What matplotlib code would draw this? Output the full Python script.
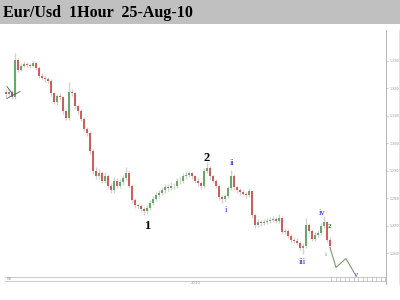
import matplotlib
matplotlib.use("Agg")
import matplotlib.pyplot as plt
from matplotlib.lines import Line2D
from matplotlib.patches import Rectangle

# ---- data (hourly candles, EUR/USD) ----
closes = [1.3178, 1.3188, 1.3167, 1.3304, 1.3268, 1.3282, 1.3289, 1.3286, 1.3282, 1.3293,
          1.3275, 1.3246, 1.3239, 1.3232, 1.3228, 1.3181, 1.3149, 1.3170, 1.3167, 1.3116,
          1.3091, 1.3188, 1.3181, 1.3134, 1.3116, 1.3088, 1.3052, 1.3037, 1.2972, 1.2900,
          1.2879, 1.2893, 1.2864, 1.2882, 1.2846, 1.2828, 1.2864, 1.2846, 1.2857, 1.2875,
          1.2893, 1.2846, 1.2792, 1.2774, 1.2771, 1.2760, 1.2753, 1.2764, 1.2782, 1.2796,
          1.2810, 1.2818, 1.2828, 1.2839, 1.2836, 1.2846, 1.2843, 1.2861, 1.2864, 1.2879,
          1.2886, 1.2890, 1.2879, 1.2864, 1.2854, 1.2843, 1.2900, 1.2911, 1.2879, 1.2864,
          1.2846, 1.2803, 1.2796, 1.2807, 1.2836, 1.2882, 1.2839, 1.2828, 1.2821, 1.2814,
          1.2810, 1.2825, 1.2738, 1.2702, 1.2713, 1.2710, 1.2713, 1.2717, 1.2720, 1.2724,
          1.2717, 1.2728, 1.2677, 1.2681, 1.2663, 1.2648, 1.2645, 1.2638, 1.2620, 1.2627,
          1.2702, 1.2681, 1.2652, 1.2666, 1.2674, 1.2699, 1.2713, 1.2648, 1.2627]
highs = [1.3196, 1.3199, 1.3195, 1.3329, 1.3310, 1.3292, 1.3298, 1.3296, 1.3293, 1.3302,
         1.3300, 1.3280, 1.3256, 1.3248, 1.3240, 1.3234, 1.3188, 1.3180, 1.3182, 1.3172,
         1.3122, 1.3224, 1.3198, 1.3186, 1.3142, 1.3124, 1.3094, 1.3060, 1.3044, 1.2980,
         1.2912, 1.2906, 1.2900, 1.2894, 1.2888, 1.2854, 1.2876, 1.2872, 1.2868, 1.2886,
         1.2914, 1.2900, 1.2852, 1.2800, 1.2784, 1.2780, 1.2768, 1.2774, 1.2792, 1.2806,
         1.2822, 1.2830, 1.2840, 1.2852, 1.2850, 1.2860, 1.2856, 1.2872, 1.2876, 1.2890,
         1.2898, 1.2900, 1.2896, 1.2886, 1.2872, 1.2860, 1.2910, 1.2932, 1.2918, 1.2886,
         1.2870, 1.2852, 1.2812, 1.2816, 1.2846, 1.2904, 1.2888, 1.2846, 1.2836, 1.2830,
         1.2824, 1.2836, 1.2830, 1.2744, 1.2724, 1.2722, 1.2724, 1.2728, 1.2730, 1.2736,
         1.2732, 1.2742, 1.2734, 1.2692, 1.2688, 1.2670, 1.2658, 1.2654, 1.2644, 1.2636,
         1.2728, 1.2708, 1.2688, 1.2676, 1.2684, 1.2710, 1.2736, 1.2718, 1.2660]
lows = [1.3165, 1.3170, 1.3160, 1.3160, 1.3258, 1.3262, 1.3276, 1.3279, 1.3274, 1.3276,
        1.3268, 1.3238, 1.3230, 1.3222, 1.3218, 1.3172, 1.3142, 1.3140, 1.3158, 1.3108,
        1.3084, 1.3086, 1.3170, 1.3126, 1.3106, 1.3080, 1.3044, 1.3026, 1.2962, 1.2888,
        1.2868, 1.2870, 1.2854, 1.2856, 1.2836, 1.2818, 1.2820, 1.2838, 1.2836, 1.2848,
        1.2866, 1.2838, 1.2782, 1.2764, 1.2760, 1.2750, 1.2740, 1.2744, 1.2756, 1.2774,
        1.2788, 1.2802, 1.2810, 1.2820, 1.2826, 1.2828, 1.2834, 1.2836, 1.2852, 1.2856,
        1.2870, 1.2878, 1.2870, 1.2856, 1.2846, 1.2834, 1.2838, 1.2892, 1.2870, 1.2854,
        1.2836, 1.2794, 1.2784, 1.2788, 1.2800, 1.2830, 1.2830, 1.2820, 1.2812, 1.2806,
        1.2802, 1.2804, 1.2728, 1.2692, 1.2694, 1.2700, 1.2702, 1.2706, 1.2708, 1.2712,
        1.2708, 1.2710, 1.2668, 1.2668, 1.2654, 1.2638, 1.2636, 1.2628, 1.2610, 1.2598,
        1.2620, 1.2672, 1.2644, 1.2644, 1.2658, 1.2666, 1.2690, 1.2640, 1.2616]
first_open = 1.3185

# projected wave path (bar index, price)
proj_x = [108, 110, 113.3, 116]
proj_y = [1.2620, 1.2548, 1.2580, 1.2530]

# wave labels: (text, bar index, price, color, size, weight)
wave_labels = [
    ("1", 47, 1.2700, "black", 9, "bold"),
    ("2", 67, 1.2947, "black", 9, "bold"),
    ("i", 73.3, 1.2756, "#2020d0", 6, "normal"),
    ("ii", 75.3, 1.2929, "#2020d0", 6, "normal"),
    ("iii", 98.7, 1.2569, "#2020d0", 6, "normal"),
    ("iv", 105.3, 1.2746, "#2020d0", 6, "normal"),
    ("v", 116.7, 1.2519, "#2020d0", 6, "normal"),
    ("2", 107.7, 1.2695, "#208020", 5, "bold"),
    ("i", 106.7, 1.2594, "#60a060", 5, "normal"),
]

price_ticks = [1.2600, 1.2700, 1.2800, 1.2900, 1.3000, 1.3100, 1.3200, 1.3300]

# ---- figure ----
fig = plt.figure(figsize=(4, 3), dpi=100)
fig.patch.set_facecolor("white")

# title bar
fig.add_artist(Rectangle((0, 1 - 24 / 300), 1, 24 / 300, transform=fig.transFigure,
                         facecolor="#c0c0c0", edgecolor="none"))
fig.text(3 / 400, 1 - 13 / 300, "Eur/Usd  1Hour  25-Aug-10", family="Liberation Serif",
         fontweight="bold", fontsize=11.5, va="center", ha="left", color="black")

ax_l, ax_r = 5 / 400, 386 / 400
ax_b, ax_t = 23 / 300, 1 - 30 / 300
ax = fig.add_axes([ax_l, ax_b, ax_r - ax_l, ax_t - ax_b])
ax.set_facecolor("white")

opens = [first_open] + closes[:-1]
for i, (o, h, l, c) in enumerate(zip(opens, highs, lows, closes)):
    ax.vlines(i, l, h, color="#d2d2d2", linewidth=1.0, zorder=1)
    col = "#6aa86a" if c >= o else "#c86060"
    ax.bar(i, abs(c - o) if abs(c - o) > 0.0002 else 0.0002, bottom=min(o, c),
           width=0.4, color=col, edgecolor="none", zorder=2)

# small crossing marks at start
ax.plot([0.33, 2.3], [1.3206, 1.3178], color="#555555", linewidth=0.6, zorder=3)
ax.plot([0.33, 4.7], [1.3163, 1.3188], color="#555555", linewidth=0.6, zorder=3)

ax.plot(proj_x, proj_y, color="#7a9a6a", linewidth=0.8, zorder=3)

for txt, x, y, col, size, wt in wave_labels:
    ax.text(x, y, txt, color=col, fontsize=size, fontweight=wt, family="Liberation Serif",
            ha="center", va="center", zorder=4)

ax.set_xlim(-0.333, 126.67)
ax.set_ylim(1.2513, 1.3412)
ax.set_xticks([])
ax.yaxis.tick_right()
ax.set_yticks(price_ticks)
ax.set_yticklabels([f"{p:.4f}" for p in price_ticks], fontsize=2.3, color="#999999")
ax.tick_params(axis="y", length=1.5, width=0.4, color="#aaaaaa", pad=0.8)
for s in ["top", "left", "bottom"]:
    ax.spines[s].set_visible(False)
ax.spines["right"].set_color("#aaaaaa")
ax.spines["right"].set_linewidth(0.6)

# bottom time strip
fig.add_artist(Line2D([5 / 400, 386 / 400], [23 / 300, 23 / 300], transform=fig.transFigure,
                      color="#cccccc", linewidth=0.8))
fig.add_artist(Line2D([5 / 400, 386 / 400], [19 / 300, 19 / 300], transform=fig.transFigure,
                      color="#cccccc", linewidth=0.8))
for k in range(13):
    xp = (331 + 4.5 * k) / 400
    fig.add_artist(Line2D([xp, xp], [19 / 300, 23 / 300], transform=fig.transFigure,
                          color="#bbbbbb", linewidth=0.5))
fig.add_artist(Line2D([386 / 400, 386 / 400], [16 / 300, 23 / 300], transform=fig.transFigure,
                      color="#aaaaaa", linewidth=0.6))
fig.add_artist(Line2D([399 / 400, 399 / 400], [16 / 300, 1 - 30 / 300], transform=fig.transFigure,
                      color="#dddddd", linewidth=0.6))
fig.text(9 / 400, 21 / 300, "08", fontsize=2.8, color="#999999", ha="center", va="center")
fig.text(196 / 400, 17 / 300, "2010", fontsize=2.8, color="#999999", ha="center", va="center")

fig.savefig("out.png", dpi=100, facecolor="white")
